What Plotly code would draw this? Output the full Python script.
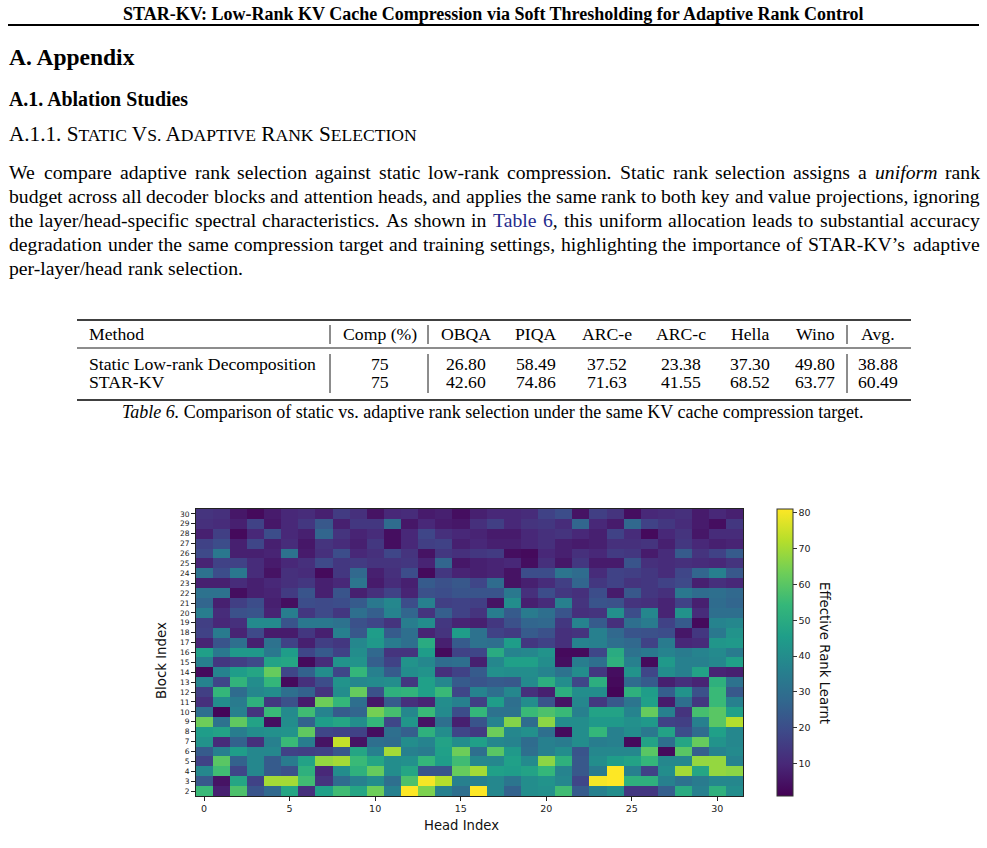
import plotly.graph_objects as go

W, H = 987, 848
def fx(x): return x / W
def fy(y): return 1 - y / H

# ---------------- data ----------------
head_index = list(range(32))
block_index = list(range(30, 1, -1))  # rows listed from block 30 (top) to block 2 (bottom)
effective_rank = [
    [13,12,6,3,7,10,11,8,15,12,5,10,11,7,8,4, 8,10,10,11,17,20,5,16,13,4,10,11,12,7,10,8],      # 30
    [12,11,8,17,6,10,14,23,8,14,14,29,6,10,7,6, 12,16,10,13,14,11,27,10,7,28,17,14,11,7,4,14],  # 29
    [8,16,3,10,20,10,8,27,13,9,11,4,10,18,12,10, 9,7,7,10,12,13,10,8,17,11,3,10,13,6,11,11],    # 28
    [17,20,8,18,8,11,6,13,11,8,14,4,10,16,17,8, 10,8,8,10,12,8,7,8,12,12,13,8,14,10,8,9],       # 27
    [19,33,8,8,9,31,7,12,20,10,12,18,13,5,14,12, 14,15,4,3,10,8,12,10,15,14,7,11,24,13,17,24],  # 26
    [9,17,17,11,7,10,12,19,14,15,13,13,14,9,27,6, 8,9,10,4,12,6,14,7,7,22,12,11,12,11,10,13],   # 25
    [31,20,33,11,5,12,11,3,14,28,8,12,20,3,14,9, 8,9,5,20,20,32,29,11,17,16,14,11,18,27,36,23], # 24
    [8,8,11,8,10,12,14,8,10,32,7,11,8,24,21,23, 18,29,5,8,11,16,27,14,17,13,14,17,19,8,12,10],  # 23
    [31,31,4,8,9,15,22,8,22,8,12,17,9,21,20,22, 22,22,33,12,20,14,12,20,7,23,14,12,33,29,30,28], # 22
    [27,8,16,20,8,4,20,19,20,24,33,38,20,36,16,17, 16,5,40,8,11,36,13,22,21,13,12,9,17,8,29,27], # 21
    [35,11,21,22,9,35,14,19,14,30,25,37,27,13,25,17, 13,35,24,34,30,22,12,13,41,20,38,9,42,11,30,30], # 20
    [16,10,12,39,39,22,33,33,31,21,18,13,35,40,14,9, 8,14,21,27,28,14,37,24,12,30,34,17,24,3,37,38],  # 19
    [17,34,9,19,7,7,14,8,36,23,45,24,30,9,13,45, 31,17,15,24,21,12,13,36,28,22,21,20,6,14,33,42],    # 18
    [9,22,30,8,31,17,8,16,14,38,44,34,30,50,8,24, 31,30,45,14,17,12,37,36,30,28,17,34,10,11,43,44],   # 17
    [46,33,44,44,33,45,18,24,17,40,28,13,13,45,3,17, 18,50,37,38,42,3,3,18,50,31,33,37,34,37,39,34],  # 16
    [36,14,16,19,47,48,3,11,42,42,25,17,42,38,29,30, 8,38,46,46,40,4,35,30,52,36,3,44,36,36,38,46],   # 15
    [3,37,45,48,62,18,26,40,18,54,36,24,40,42,12,17, 24,41,40,40,37,31,40,14,4,42,18,40,36,47,9,8],   # 14
    [37,18,53,40,54,3,12,20,42,38,39,40,14,46,38,24, 22,24,23,39,51,40,18,51,3,29,24,8,12,9,52,31],   # 13
    [16,54,29,38,40,30,26,13,40,62,21,52,53,46,55,18, 37,30,38,12,8,51,40,40,2,52,45,25,42,21,55,23], # 12
    [12,40,34,52,14,21,7,63,54,30,6,24,12,9,40,36, 16,45,30,40,22,5,38,14,23,32,46,7,30,14,55,36],    # 11
    [30,2,36,13,55,39,56,37,24,27,64,57,38,55,39,20, 54,31,31,55,58,55,36,47,47,37,62,36,13,57,60,46], # 10
    [63,31,61,47,4,40,26,45,48,40,54,18,43,5,30,8, 22,37,66,29,67,40,40,44,44,41,44,17,16,36,60,72],   # 9
    [45,47,35,40,41,42,61,18,17,17,4,30,25,52,40,18, 15,63,38,41,30,3,40,54,36,40,33,47,20,29,46,38],  # 8
    [42,11,26,12,36,55,35,5,74,5,30,29,40,37,47,40, 46,38,37,29,36,34,40,35,36,3,47,30,48,62,42,38],   # 7
    [24,36,45,38,38,17,16,17,23,48,36,70,36,34,46,63, 30,60,44,30,36,40,22,38,38,38,60,3,60,25,37,39], # 6
    [17,60,26,38,24,34,47,68,70,55,48,40,41,54,45,56, 38,38,46,39,67,52,23,40,45,47,54,38,38,68,68,37], # 5
    [38,56,18,38,24,21,52,10,40,52,62,40,48,22,22,62, 70,46,45,47,54,37,23,34,81,36,17,40,70,48,68,67], # 4
    [23,5,48,17,70,70,56,13,29,36,40,30,58,80,72,36, 36,38,32,40,42,38,18,80,81,52,52,36,31,34,38,38],  # 3
    [55,8,58,22,28,48,12,46,56,48,63,36,81,65,36,30, 81,38,26,40,41,56,24,36,40,14,14,25,50,36,52,40],  # 2
]
colorbar_ticks = [10, 20, 30, 40, 50, 60, 70, 80]
x_ticks = [0, 5, 10, 15, 20, 25, 30]

table_columns = ["Method", "Comp (%)", "OBQA", "PIQA", "ARC-e", "ARC-c", "Hella", "Wino", "Avg."]
table_methods = ["Static Low-rank Decomposition", "STAR-KV"]
table_comp = ["75", "75"]
static_scores = ["26.80", "58.49", "37.52", "23.38", "37.30", "49.80", "38.88"]
starkv_scores = ["42.60", "74.86", "71.63", "41.55", "68.52", "63.77", "60.49"]

title_text = "STAR-KV: Low-Rank KV Cache Compression via Soft Thresholding for Adaptive Rank Control"
paragraph_lines = [
    "We compare adaptive rank selection against static low-rank compression. Static rank selection assigns a *uniform* rank",
    "budget across all decoder blocks and attention heads, and applies the same rank to both key and value projections, ignoring",
    "the layer/head-specific spectral characteristics. As shown in [Table] [6], this uniform allocation leads to substantial accuracy",
    "degradation under the same compression target and training settings, highlighting the importance of STAR-KV’s adaptive",
    "per-layer/head rank selection.",
]

SERIF = "Liberation Serif"
SANS = "DejaVu Sans"
LINK = "#1f2a8c"

# Times-like advance widths (per 1000 em)
TR = {' ': 250, 'a': 444, 'b': 500, 'c': 444, 'd': 500, 'e': 444, 'f': 333, 'g': 500, 'h': 500,
      'i': 278, 'j': 278, 'k': 500, 'l': 278, 'm': 778, 'n': 500, 'o': 500, 'p': 500, 'q': 500,
      'r': 333, 's': 389, 't': 278, 'u': 500, 'v': 500, 'w': 722, 'x': 500, 'y': 500, 'z': 444,
      'A': 722, 'B': 667, 'C': 667, 'D': 722, 'E': 611, 'F': 556, 'G': 722, 'H': 722, 'I': 333,
      'J': 389, 'K': 722, 'L': 611, 'M': 889, 'N': 722, 'O': 722, 'P': 556, 'Q': 722, 'R': 667,
      'S': 556, 'T': 611, 'U': 722, 'V': 722, 'W': 944, 'X': 722, 'Y': 722, 'Z': 611,
      ',': 250, '.': 250, '-': 333, '/': 278, '’': 333, '(': 333, ')': 333, '%': 833, ':': 278}
for d in "0123456789":
    TR[d] = 500
TI = dict(TR)
TI.update({'f': 278, 'r': 389, 'm': 722})

BODY = 19.7

def parse_word(word):
    html, width = "", 0.0
    italic = blue = False
    for ch in word:
        if ch == '*':
            italic = not italic
            continue
        if ch == '[':
            blue = True
            continue
        if ch == ']':
            blue = False
            continue
        piece = ch
        if italic:
            piece = "<i>" + piece + "</i>"
        if blue:
            piece = "<span style='color:%s'>%s</span>" % (LINK, piece)
        html += piece
        width += (TI if italic else TR).get(ch, 500) * BODY / 1000
    return html, width

annotations = []
def add_text(text, x, y, size, family=SERIF, xanchor="left", color="#000", angle=0):
    annotations.append(dict(text=text, x=fx(x), y=fy(y), xref="paper", yref="paper",
                            xanchor=xanchor, yanchor="middle", showarrow=False,
                            textangle=angle, borderpad=0,
                            font=dict(family=family, size=size, color=color)))

# Header
add_text("<b>" + title_text + "</b>", 493, 14, 18.0, xanchor="center")
add_text("<b>A. Appendix</b>", 8, 57, 23.5)
add_text("<b>A.1. Ablation Studies</b>", 8, 99, 19.9)
sc = "<span style='font-size:17.6px'>%s</span>"
add_text("A.1.1. S" + sc % "TATIC" + " V" + sc % "S." + " A" + sc % "DAPTIVE" + " R" + sc % "ANK"
         + " S" + sc % "ELECTION", 8, 134, 21.2)

# Paragraph with justification
left, right = 8, 979
line_y = [172, 196, 220, 244, 268]
for li, (line, yy) in enumerate(zip(paragraph_lines, line_y)):
    words = [parse_word(w) for w in line.split(" ")]
    total = sum(w for _, w in words)
    if li < len(paragraph_lines) - 1:
        gap = (right - left - total) / (len(words) - 1)
    else:
        gap = TR[' '] * BODY / 1000
    x = left
    for html, w in words:
        add_text(html, x, yy, BODY)
        x += w + gap

# Table
TS = 17.7
col_x = [88, 380, 466, 536, 607, 681, 750, 815, 878]
for i, name in enumerate(table_columns):
    add_text(name, col_x[i], 334, TS, xanchor="left" if i == 0 else "center")
rows = [[table_methods[0], table_comp[0]] + static_scores,
        [table_methods[1], table_comp[1]] + starkv_scores]
for r, yy in zip(rows, [364, 382]):
    for i, val in enumerate(r):
        add_text(val, col_x[i], yy, TS, xanchor="left" if i == 0 else "center")
add_text("<i>Table 6.</i> Comparison of static vs. adaptive rank selection under the same KV cache compression target.",
         493, 412, 18.0, xanchor="center")

shapes = []
def hline(y, x0, x1, w):
    shapes.append(dict(type="line", xref="paper", yref="paper", x0=fx(x0), x1=fx(x1),
                       y0=fy(y), y1=fy(y), line=dict(color="#000", width=w)))
def vline(x, y0, y1, w):
    shapes.append(dict(type="line", xref="paper", yref="paper", x0=fx(x), x1=fx(x),
                       y0=fy(y0), y1=fy(y1), line=dict(color="#000", width=w)))
hline(25, 8, 979, 2)
hline(320, 77, 911, 1.6)
hline(348, 77, 911, 0.9)
hline(400, 77, 911, 1.6)
for vx in [330, 428, 847]:
    vline(vx, 325, 344, 0.9)
    vline(vx, 354, 393, 0.9)

# Heatmap axis titles and colorbar label
add_text("Head Index", 461, 825, 13.2, family=SANS, xanchor="center", color="#111")
add_text("Block Index", 161, 661, 13.3, family=SANS, xanchor="center", color="#111", angle=-90)
add_text("Effective Rank Learnt", 825, 653, 13.3, family=SANS, xanchor="center", color="#111", angle=90)

fig = go.Figure(go.Heatmap(
    z=effective_rank, x=head_index, y=block_index,
    colorscale="Viridis", zmin=1, zmax=81, hoverongaps=False,
    colorbar=dict(x=fx(777), xanchor="left", y=fy(796), yanchor="bottom",
                  len=(796 - 509) / H, lenmode="fraction", thickness=16, thicknessmode="pixels",
                  xpad=0, ypad=0, outlinewidth=1, outlinecolor="#333",
                  tickvals=colorbar_ticks, ticks="outside", ticklen=3.5, tickcolor="#333",
                  tickfont=dict(family=SANS, size=9.5, color="#222")),
))

fig.update_layout(
    width=W, height=H, margin=dict(l=0, r=0, t=0, b=0),
    paper_bgcolor="white", plot_bgcolor="white",
    xaxis=dict(domain=[fx(195.5), fx(743)], range=[-0.5, 31.5], tickvals=x_ticks,
               ticks="outside", ticklen=3.5, tickcolor="#222", showline=True, mirror=True,
               linecolor="#222", linewidth=1, showgrid=False, zeroline=False,
               tickfont=dict(family=SANS, size=9.5, color="#222")),
    yaxis=dict(domain=[fy(796), fy(509)], range=[1.5, 30.5], tickvals=block_index,
               ticks="outside", ticklen=3.5, tickcolor="#222", showline=True, mirror=True,
               linecolor="#222", linewidth=1, showgrid=False, zeroline=False,
               tickfont=dict(family=SANS, size=7.5, color="#222")),
    annotations=annotations, shapes=shapes, showlegend=False,
)

fig.write_html("out.html")
